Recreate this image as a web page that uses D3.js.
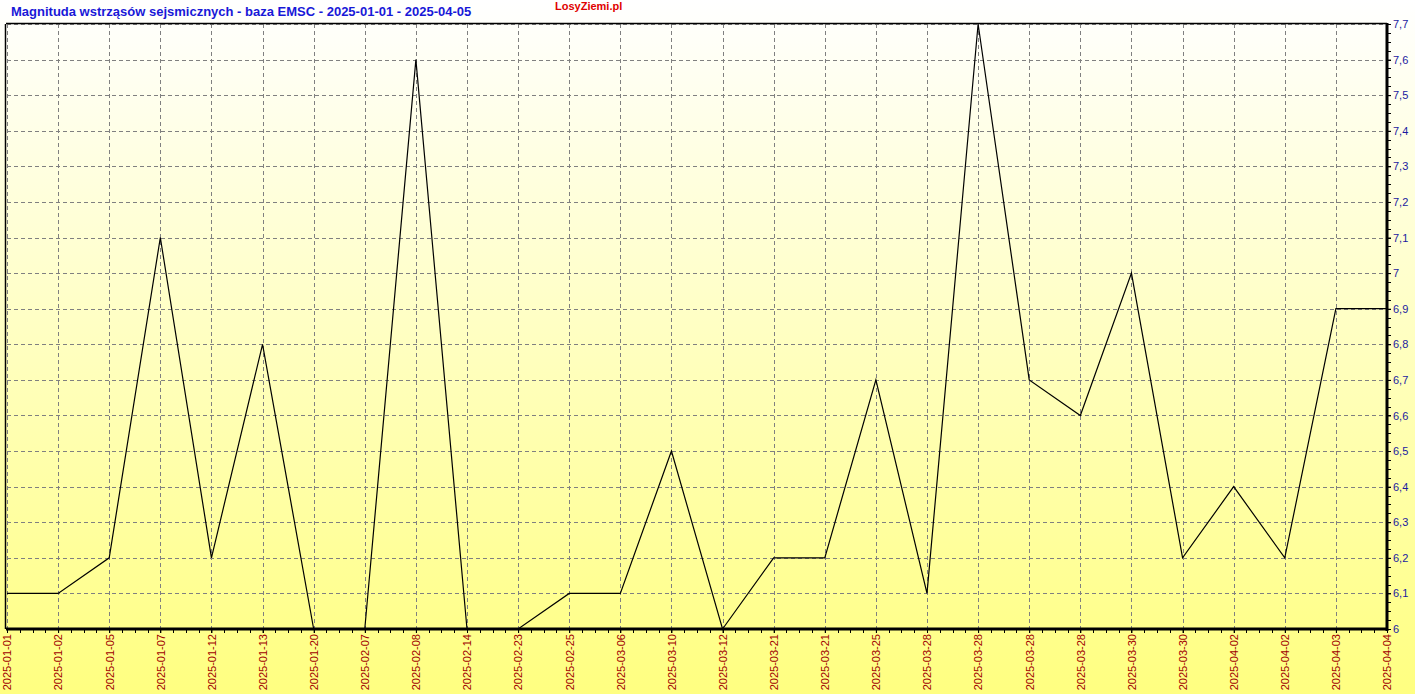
<!DOCTYPE html>
<html><head><meta charset="utf-8">
<script src="https://cdn.jsdelivr.net/npm/d3@7"></script>
<style>body{margin:0;overflow:hidden}svg{display:block}</style>
</head><body>
<script>
const categories = ["2025-01-01","2025-01-02","2025-01-05","2025-01-07","2025-01-12","2025-01-13","2025-01-20","2025-02-07","2025-02-08","2025-02-14","2025-02-23","2025-02-25","2025-03-06","2025-03-10","2025-03-12","2025-03-21","2025-03-21","2025-03-25","2025-03-28","2025-03-28","2025-03-28","2025-03-28","2025-03-30","2025-03-30","2025-04-02","2025-04-02","2025-04-03","2025-04-04"];
const magnitudes = [6.1,6.1,6.2,7.1,6.2,6.8,6.0,6.0,7.6,6.0,6.0,6.1,6.1,6.5,6.0,6.2,6.2,6.7,6.1,7.7,6.7,6.6,7.0,6.2,6.4,6.2,6.9,6.9];
const yTicks = [6.0,6.1,6.2,6.3,6.4,6.5,6.6,6.7,6.8,6.9,7.0,7.1,7.2,7.3,7.4,7.5,7.6,7.7];
const titleText = "Magnituda wstrząsów sejsmicznych - baza EMSC - 2025-01-01 - 2025-04-05";
const brandText = "LosyZiemi.pl";

(function(){
const W = 1415, H = 694;
const pL = 7, pR = 1387, pT = 24, pB = 629;

const svg = d3.select("body").append("svg").attr("width", W).attr("height", H);
const defs = svg.append("defs");
const grad = defs.append("linearGradient").attr("id","bg").attr("x1",0).attr("y1",0).attr("x2",0).attr("y2",1);
grad.append("stop").attr("offset","0%").attr("stop-color","#ffffff");
grad.append("stop").attr("offset","100%").attr("stop-color","#ffff80");
svg.append("rect").attr("width",W).attr("height",H).attr("fill","url(#bg)");

const x = d3.scalePoint().domain(d3.range(categories.length)).range([pL, pR]);
const y = d3.scaleLinear().domain([6.0, 7.7]).range([pB, pT]);

// grid
const g = svg.append("g");
g.selectAll(".vg").data(d3.range(categories.length)).join("line")
  .attr("x1", d => Math.round(x(d))+0.5).attr("x2", d => Math.round(x(d))+0.5).attr("y1", pT).attr("y2", pB)
  .attr("stroke","#808080").attr("stroke-dasharray","4,3").attr("shape-rendering","crispEdges");
g.selectAll(".hg").data(yTicks).join("line")
  .attr("x1", pL).attr("x2", pR).attr("y1", d => Math.round(y(d))+0.5).attr("y2", d => Math.round(y(d))+0.5)
  .attr("stroke","#808080").attr("stroke-dasharray","4,3").attr("shape-rendering","crispEdges");

// frame
svg.append("line").attr("x1",pL-1).attr("x2",pR).attr("y1",pT-0.5).attr("y2",pT-0.5).attr("stroke","#000").attr("stroke-width",1.5);
svg.append("line").attr("x1",pL-1.5).attr("x2",pL-1.5).attr("y1",pT).attr("y2",pB).attr("stroke","#000").attr("stroke-width",1.5);

// right axis
const yAxis = d3.axisRight(y).tickValues(yTicks).tickSize(4).tickFormat(d => d3.format(".1f")(d).replace(/\.0$/,"").replace(".",","));
const ya = svg.append("g").attr("transform",`translate(${pR},0)`).call(yAxis);
ya.select(".domain").remove();
ya.selectAll("text").attr("fill","#1a1aa0").attr("font-family","Arial, 'Liberation Sans', sans-serif").attr("font-size",11).attr("x",6);
ya.selectAll(".tick line").attr("stroke","#000");
const minorY = d3.range(0, 69).map(i => 6.0 + i*0.025);
svg.append("g").selectAll("line").data(minorY).join("line")
  .attr("x1",pR).attr("x2",pR+4).attr("y1",d=>Math.round(y(d))+0.5).attr("y2",d=>Math.round(y(d))+0.5)
  .attr("stroke","#000").attr("shape-rendering","crispEdges");
svg.append("line").attr("x1",pR).attr("x2",pR).attr("y1",pT-1).attr("y2",pB+2).attr("stroke","#000").attr("stroke-width",3);

// bottom axis
const xAxis = d3.axisBottom(x).tickSize(4).tickFormat(i => categories[i]);
const xa = svg.append("g").attr("transform",`translate(0,${pB})`).call(xAxis);
xa.select(".domain").remove();
xa.selectAll(".tick line").attr("stroke","#000");
xa.selectAll("text").attr("fill","#a00000").attr("font-family","Arial, 'Liberation Sans', sans-serif").attr("font-size",11)
  .attr("transform","rotate(-90)").attr("text-anchor","end").attr("x",-5).attr("y",0).attr("dy","0.35em");
const step = x.step();
const minorX = d3.range(0, (categories.length-1)*4+1).map(i => pL + i*step/4);
svg.append("g").selectAll("line").data(minorX).join("line")
  .attr("x1",d=>Math.round(d)+0.5).attr("x2",d=>Math.round(d)+0.5).attr("y1",pB).attr("y2",pB+4)
  .attr("stroke","#000").attr("shape-rendering","crispEdges");

// data line
svg.append("path").datum(magnitudes)
  .attr("d", d3.line().x((d,i)=>x(i)).y(d=>y(d)))
  .attr("fill","none").attr("stroke","#000").attr("stroke-width",1.2);

svg.append("line").attr("x1",pL-1).attr("x2",pR+1).attr("y1",pB).attr("y2",pB).attr("stroke","#000").attr("stroke-width",3);

// titles
svg.append("text").attr("x",11).attr("y",16).text(titleText)
  .attr("fill","#1818d8").attr("font-family","Arial, 'Liberation Sans', sans-serif").attr("font-weight","bold").attr("font-size",13);
svg.append("text").attr("x",555).attr("y",10).text(brandText)
  .attr("fill","#e00000").attr("font-family","Arial, 'Liberation Sans', sans-serif").attr("font-weight","bold").attr("font-size",11);
})();
</script>
</body></html>
